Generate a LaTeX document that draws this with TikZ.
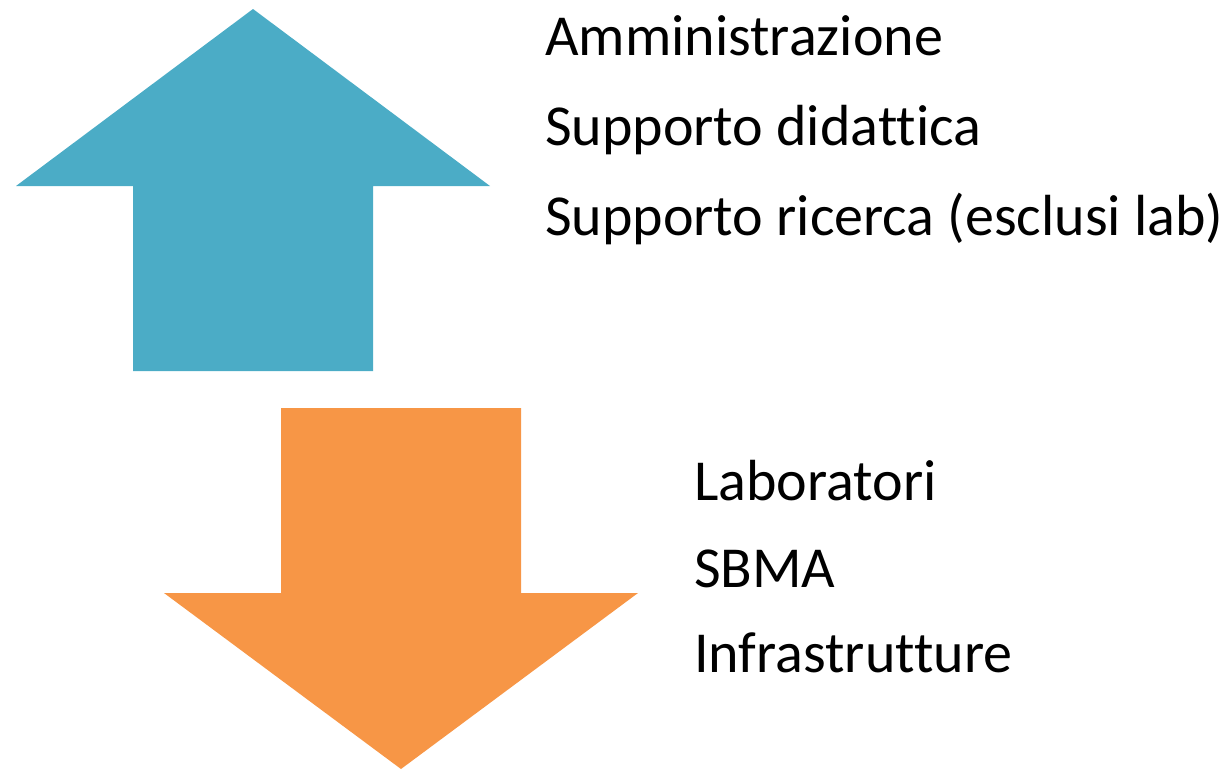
\documentclass[tikz,border=0pt]{standalone}
\usepackage{fontspec}
\setmainfont{Carlito}[Ligatures={NoCommon}]
\definecolor{upblue}{HTML}{4BACC6}
\definecolor{downorange}{HTML}{F79646}
\tikzset{
  lbl/.style={anchor=base west, inner sep=0pt, font=\fontsize{58}{62}\selectfont, text=black}
}
\begin{document}
\begin{tikzpicture}[x=1pt,y=-1pt]
\useasboundingbox (0,0) rectangle (1230,771);
\fill[upblue] (253,9) -- (490,186) -- (373,186) -- (373,371) -- (133,371) -- (133,186) -- (16,186) -- cycle;
\fill[downorange] (401,769) -- (638,593) -- (521,593) -- (521,408) -- (281,408) -- (281,593) -- (164,593) -- cycle;
\node[lbl] (t1) at (545,55) {Amministrazione};
\node[lbl] (t2) at (545,145) {Supporto didattica};
\node[lbl] (t3) at (545,235) {Supporto ricerca (esclusi lab)};
\node[lbl] (t4) at (694,500) {Laboratori};
\node[lbl] (t5) at (694,587) {SBMA};
\node[lbl] (t6) at (694,672) {Infrastrutture};
\end{tikzpicture}
\end{document}
